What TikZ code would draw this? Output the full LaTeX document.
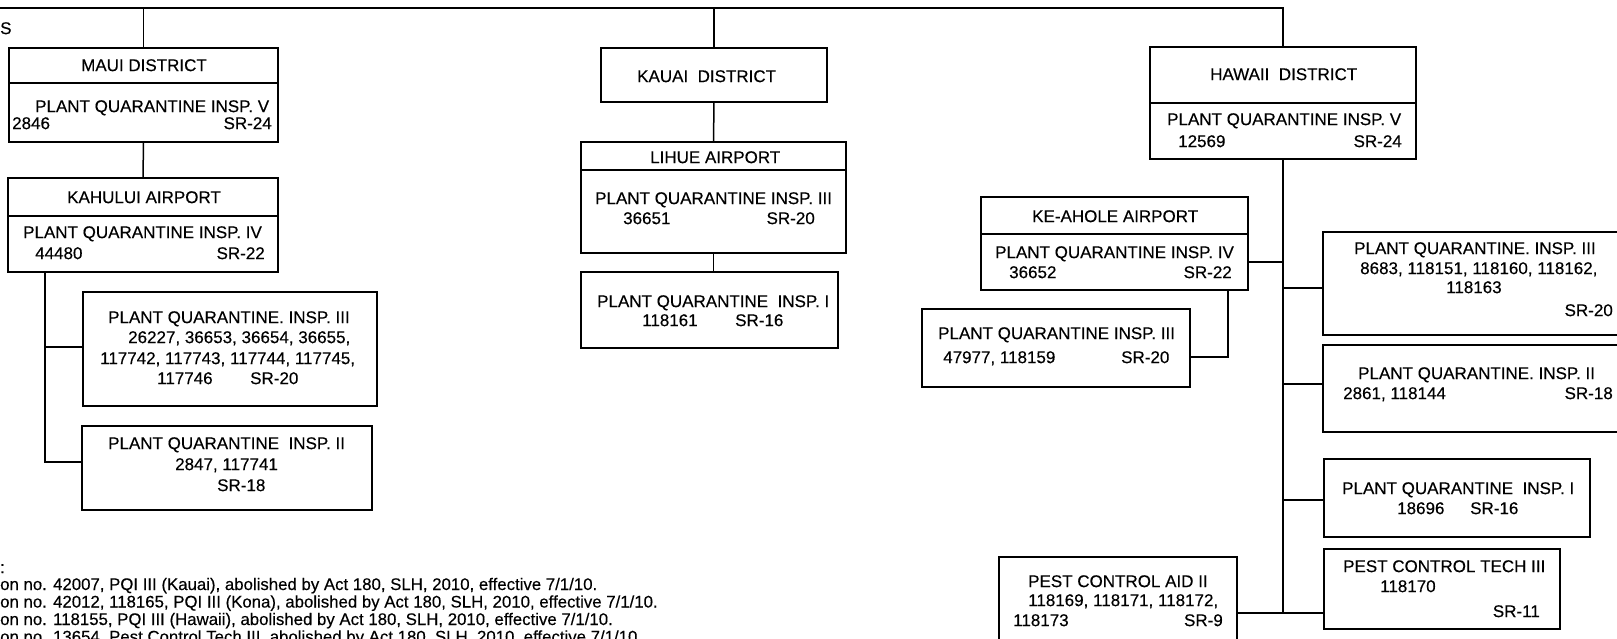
\documentclass[tikz,border=0pt]{standalone}
\usepackage{fontspec}
\setmainfont{Liberation Sans}[FakeBold=0.3]
\newcommand\mybox[5]{\node[box, minimum width={#4-#2}, minimum height={#5-#3}] (#1) at ({(#2+#4)/2},{(#3+#5)/2}) {};}
\begin{document}
\begin{tikzpicture}[x=1pt,y=-1pt,
  box/.style={draw, line width=1.5pt, rectangle, inner sep=0pt, outer sep=0pt},
  ln/.style={line width=1.5pt},
  tx/.style={inner sep=0pt, font=\fontsize{17}{20}\selectfont, text height=12.2pt, text depth=0pt},
  tl/.style={tx, anchor=west},
  tr/.style={tx, anchor=east},
  fn/.style={inner sep=0pt, anchor=west, font=\fontsize{16.8}{18}\selectfont, text height=12pt, text depth=0pt}]
\useasboundingbox (0,0) rectangle (1617,639);
\fill[white] (0,0) rectangle (1617,639);

% boxes
\mybox{maui}{9}{48}{278}{142}
\mybox{kahului}{8}{178}{278}{272}
\mybox{mthree}{83}{292}{377}{406}
\mybox{mtwo}{82}{426}{372}{510}
\mybox{kauai}{601}{48}{827}{102}
\mybox{lihue}{581}{142}{846}{253}
\mybox{kone}{581}{272}{838}{348}
\mybox{hawaii}{1150}{47}{1416}{159}
\mybox{keahole}{981}{197}{1248}{290}
\mybox{hthree}{922}{309}{1190}{387}
\mybox{rthree}{1323}{232}{1619}{335}
\mybox{rtwo}{1323}{345}{1619}{432}
\mybox{rone}{1324}{459}{1590}{537}
\mybox{pct}{1324}{549}{1560}{629}
\mybox{aid}{999}{557}{1237}{660}

% dividers
\draw[ln] (maui.west |- 0,83) -- (maui.east |- 0,83);
\draw[ln] (kahului.west |- 0,216) -- (kahului.east |- 0,216);
\draw[ln] (lihue.west |- 0,170) -- (lihue.east |- 0,170);
\draw[ln] (hawaii.west |- 0,103) -- (hawaii.east |- 0,103);
\draw[ln] (keahole.west |- 0,234) -- (keahole.east |- 0,234);

% connectors
\coordinate (topL) at (0,8);
\coordinate (lb) at (45,462);
\coordinate (hv) at (hawaii.south |- 0,613);
\draw[ln] (topL) -- (hawaii.north |- topL) -- (hawaii.north);
\draw[ln] (maui.north |- topL) -- (maui.north);
\draw[ln] (kauai.north |- topL) -- (kauai.north);
\draw[ln] (maui.south) -- (kahului.north);
\draw[ln] (kahului.south -| lb) -- (lb) -- (mtwo.west |- lb);
\draw[ln] (mthree.west |- 0,347) -- (lb |- 0,347);
\draw[ln] (kauai.south) -- (lihue.north);
\draw[ln] (lihue.south) -- (lihue.south |- kone.north);
\draw[ln] (hawaii.south) -- (hv);
\draw[ln] (keahole.east |- 0,262) -- (hv |- 0,262);
\draw[ln] (keahole.south -| 1228,0) -- (1228,357) -- (hthree.east |- 0,357);
\draw[ln] (rthree.west |- 0,288) -- (hv |- 0,288);
\draw[ln] (rtwo.west |- 0,384) -- (hv |- 0,384);
\draw[ln] (rone.west |- 0,500) -- (hv |- 0,500);
\draw[ln] (aid.east |- hv) -- (pct.west |- hv);

% texts: Maui
\node[tl] (t1) at (81,65) {MAUI DISTRICT};
\node[tl] (t2) at (35,106) {PLANT QUARANTINE INSP. V};
\node[tl] (t3) at (12,123) {2846};
\node[tr] (t4) at (272,123) {SR-24};
\node[tl] (t5) at (67,197) {KAHULUI AIRPORT};
\node[tl] (t6) at (23,232) {PLANT QUARANTINE INSP. IV};
\node[tl] (t7) at (35,253) {44480};
\node[tr] (t8) at (265,253) {SR-22};
\node[tl] (t9) at (108,317) {PLANT QUARANTINE. INSP. III};
\node[tl] (t10) at (128,337) {26227, 36653, 36654, 36655,};
\node[tl] (t11) at (100,358) {117742, 117743, 117744, 117745,};
\node[tl] (t12) at (157,378) {117746};
\node[tl] (t13) at (250,378) {SR-20};
\node[tl] (t14) at (108,443) {PLANT QUARANTINE\ \ INSP. II};
\node[tl] (t15) at (175,464) {2847, 117741};
\node[tl] (t16) at (217,485) {SR-18};

% Kauai
\node[tl] (t17) at (637,76) {KAUAI\ \ DISTRICT};
\node[tl] (t18) at (650,157) {LIHUE AIRPORT};
\node[tl] (t19) at (595,198) {PLANT QUARANTINE INSP. III};
\node[tl] (t20) at (623,218) {36651};
\node[tr] (t21) at (815,218) {SR-20};
\node[tl] (t22) at (597,301) {PLANT QUARANTINE\ \ INSP. I};
\node[tl] (t23) at (642,320) {118161};
\node[tl] (t24) at (735,320) {SR-16};

% Hawaii
\node[tl] (t25) at (1210,74) {HAWAII\ \ DISTRICT};
\node[tl] (t26) at (1167,119) {PLANT QUARANTINE INSP. V};
\node[tl] (t27) at (1178,141) {12569};
\node[tr] (t28) at (1402,141) {SR-24};
\node[tl] (t29) at (1032,216) {KE-AHOLE AIRPORT};
\node[tl] (t30) at (995,252) {PLANT QUARANTINE INSP. IV};
\node[tl] (t31) at (1009,272) {36652};
\node[tr] (t32) at (1232,272) {SR-22};
\node[tl] (t33) at (938,333) {PLANT QUARANTINE INSP. III};
\node[tl] (t34) at (943,357) {47977, 118159};
\node[tl] (t35) at (1121,357) {SR-20};
\node[tl] (t36) at (1354,248) {PLANT QUARANTINE. INSP. III};
\node[tl] (t37) at (1360,268) {8683, 118151, 118160, 118162,};
\node[tl] (t38) at (1446,287) {118163};
\node[tr] (t39) at (1613,310) {SR-20};
\node[tl] (t40) at (1358,373) {PLANT QUARANTINE. INSP. II};
\node[tl] (t41) at (1343,393) {2861, 118144};
\node[tr] (t42) at (1613,393) {SR-18};
\node[tl] (t43) at (1342,488) {PLANT QUARANTINE\ \ INSP. I};
\node[tl] (t44) at (1397,508) {18696};
\node[tl] (t45) at (1470,508) {SR-16};
\node[tl] (t46) at (1343,566) {PEST CONTROL TECH III};
\node[tl] (t47) at (1380,586) {118170};
\node[tr] (t48) at (1540,611) {SR-11};
\node[tl] (t49) at (1028,581) {PEST CONTROL AID II};
\node[tl] (t50) at (1028,600) {118169, 118171, 118172,};
\node[tl] (t51) at (1013,620) {118173};
\node[tr] (t52) at (1223,620) {SR-9};

% margin texts
\node[tl] (s) at (0,28) {S};
\node[fn] (f0) at (0,567) {:};
\node[fn] (f1) at (0,584) {on no. 42007, PQI III (Kauai), abolished by Act 180, SLH, 2010, effective 7/1/10.};
\node[fn] (f2) at (0,601.5) {on no. 42012, 118165, PQI III (Kona), abolished by Act 180, SLH, 2010, effective 7/1/10.};
\node[fn] (f3) at (0,619) {on no. 118155, PQI III (Hawaii), abolished by Act 180, SLH, 2010, effective 7/1/10.};
\node[fn] (f4) at (0,636.5) {on no. 13654, Pest Control Tech III, abolished by Act 180, SLH, 2010, effective 7/1/10.};
\end{tikzpicture}
\end{document}
